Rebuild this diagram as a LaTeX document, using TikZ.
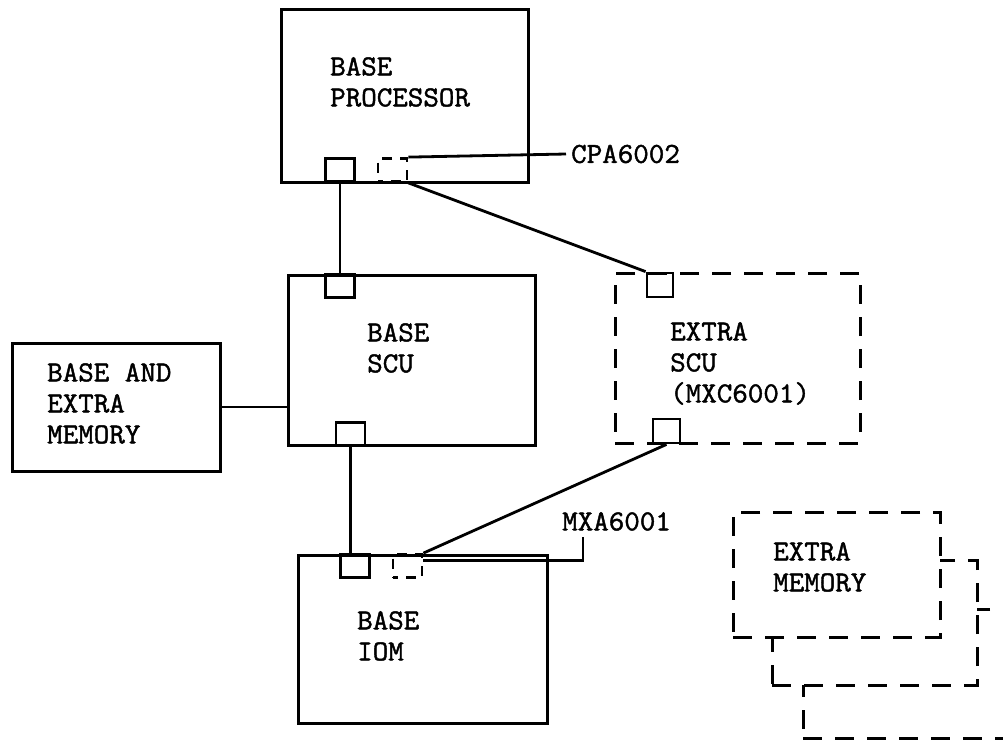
\documentclass[tikz,border=0pt]{standalone}
\usepackage{fontspec}
\newfontfamily\typefont{Latin Modern Mono}[FakeBold=1.5,FakeStretch=1.04]
\usepackage{tikz}
\usetikzlibrary{calc}

\begin{document}
\begin{tikzpicture}[x=1pt,y=-1pt,
    unitbox/.style={draw,line width=3pt,inner sep=0pt},
    dashbox/.style={draw,line width=3pt,inner sep=0pt,dash pattern=on 19pt off 13pt},
    portbox/.style={draw,line width=2.8pt,inner sep=0pt,minimum width=29pt,minimum height=23pt},
    dportbox/.style={portbox,dash pattern=on 10pt off 8pt,dash phase=5pt},
    lbl/.style={anchor=north west,inner sep=0pt,align=left,
                font=\fontsize{29}{31}\selectfont\typefont},
    wire/.style={line width=2.8pt}]
  \useasboundingbox (0,0) rectangle (1003,740);

  % main units
  \node[unitbox,minimum width=247pt,minimum height=173pt] (proc) at (404.5,95.5) {};
  \node[unitbox,minimum width=247pt,minimum height=170pt] (scu) at (411.5,360) {};
  \node[unitbox,minimum width=208pt,minimum height=128pt] (mem) at (116,407) {};
  \node[dashbox,minimum width=245pt,minimum height=170pt] (xscu) at (737.5,358) {};
  \node[unitbox,minimum width=249pt,minimum height=168pt] (iom) at (422.5,639) {};

  % stacked extra memory, back to front
  \node[dashbox,minimum width=205pt,minimum height=129pt] (xmemc) at (905.5,673.5) {};
  \node[dashbox,fill=white,minimum width=205pt,minimum height=125pt] (xmemb) at (874.5,622.5) {};
  \node[dashbox,fill=white,minimum width=207pt,minimum height=125pt] (xmema) at (836.5,574.5) {};

  % ports
  \node[portbox] (procA) at (340,170) {};
  \node[dportbox] (procB) at (392.5,170) {};
  \node[portbox] (scuA) at (340,286) {};
  \node[portbox] (scuB) at (350.5,434) {};
  \node[portbox,minimum width=26pt,minimum height=24pt] (xscuA) at (660,285) {};
  \node[portbox,minimum width=27pt,minimum height=24pt] (xscuB) at (666.5,431) {};
  \node[portbox] (iomA) at (355,566) {};
  \node[dportbox] (iomB) at (407.5,566) {};

  % texts
  \node[lbl] (procT) at (330,57) {BASE\\PROCESSOR};
  \node[lbl] (scuT) at (367,323) {BASE\\SCU};
  \node[lbl] (memT) at (47,363) {BASE AND\\EXTRA\\MEMORY};
  \node[lbl] (xscuT) at (670,322) {EXTRA\\SCU\\(MXC6001)};
  \node[lbl] (iomT) at (357,611) {BASE\\IOM};
  \node[lbl] (xmemT) at (773,542) {EXTRA\\MEMORY};

  % connections
  \draw[wire] (procA.south) -- (scuA.north);
  \draw[wire] (procB.south east) -- (xscuA.north west);
  \draw[wire] (mem.east) -- (mem.east -| scu.west);
  \draw[wire] (scuB.south) -- (scuB.south |- iomA.north);
  \draw[wire] (xscuB.south) -- (iomB.north east);

  % part numbers
  \node[lbl,anchor=west,inner sep=5pt] (cpa) at (566,154) {CPA6002};
  \draw[wire] (procB.north east) -- (cpa.west);
  \node[lbl] (mxa) at (562,512) {MXA6001};
  \coordinate (mxaTip) at (583,537);
  \draw[wire] ($(iomB.north east)+(0,7)$) -| (mxaTip);
\end{tikzpicture}
\end{document}
